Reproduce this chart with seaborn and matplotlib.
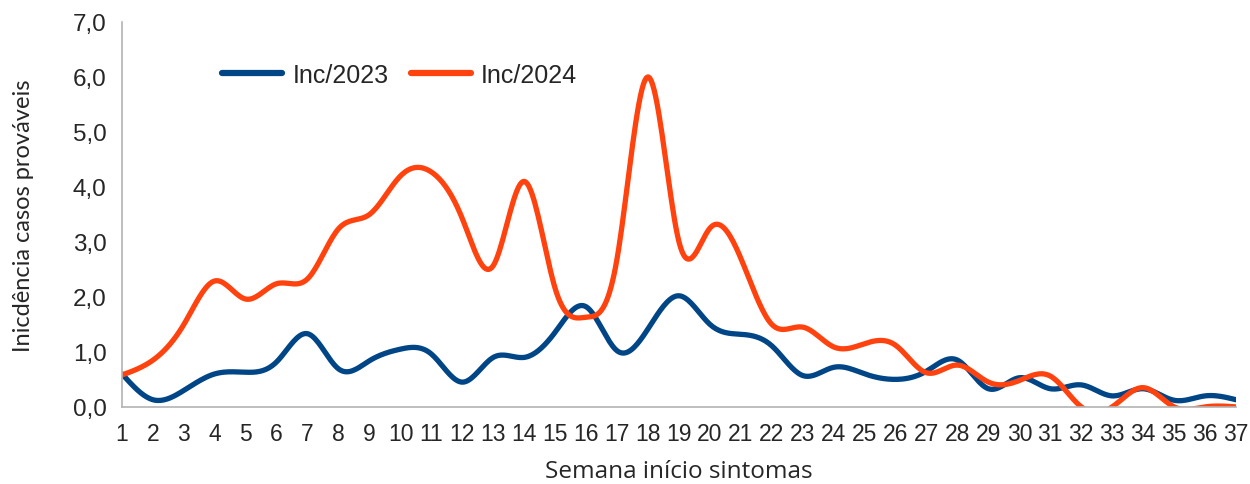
import numpy as np
import pandas as pd
import seaborn as sns
import matplotlib
matplotlib.use("Agg")
import matplotlib.pyplot as plt

# dados (incidencia por semana)
semanas = list(range(1, 38))
inc_2023 = [0.60, 0.13, 0.30, 0.60, 0.63, 0.82, 1.33, 0.69, 0.84, 1.05,
            0.96, 0.45, 0.90, 0.90, 1.36, 1.82, 1.02, 1.42, 2.02, 1.50,
            1.32, 1.11, 0.57, 0.72, 0.60, 0.50, 0.65, 0.85, 0.33, 0.53,
            0.33, 0.40, 0.20, 0.33, 0.12, 0.20, 0.13]
inc_2024 = [0.58, 0.85, 1.50, 2.29, 1.96, 2.24, 2.33, 3.24, 3.50, 4.20,
            4.27, 3.42, 2.57, 4.10, 2.15, 1.63, 2.70, 6.00, 3.00, 3.25,
            2.70, 1.50, 1.45, 1.09, 1.15, 1.12, 0.62, 0.76, 0.45, 0.48,
            0.56, 0.00, 0.00, 0.35, 0.00, 0.00, 0.00]
series = ["Inc/2023", "Inc/2024"]
cores = ["#004586", "#ff420e"]
yticks = [0, 1, 2, 3, 4, 5, 6, 7]


def spline(x, y, n=20):
    # spline cubica natural so para desenhar a curva suavizada
    x = np.asarray(x, float)
    y = np.asarray(y, float)
    m = len(x)
    h = np.diff(x)
    A = np.zeros((m, m))
    b = np.zeros(m)
    A[0, 0] = A[-1, -1] = 1
    for i in range(1, m - 1):
        A[i, i - 1] = h[i - 1]
        A[i, i] = 2 * (h[i - 1] + h[i])
        A[i, i + 1] = h[i]
        b[i] = 6 * ((y[i + 1] - y[i]) / h[i] - (y[i] - y[i - 1]) / h[i - 1])
    M = np.linalg.solve(A, b)
    xs, ys = [], []
    for i in range(m - 1):
        t = np.linspace(x[i], x[i + 1], n, endpoint=False)
        a = x[i + 1] - t
        c = t - x[i]
        v = (M[i] * a**3 + M[i + 1] * c**3) / (6 * h[i]) \
            + (y[i] / h[i] - M[i] * h[i] / 6) * a \
            + (y[i + 1] / h[i] - M[i + 1] * h[i] / 6) * c
        xs.extend(t)
        ys.extend(v)
    xs.append(x[-1])
    ys.append(y[-1])
    return np.array(xs), np.array(ys)


frames = []
for nome, vals in zip(series, [inc_2023, inc_2024]):
    sx, sy = spline(semanas, vals)
    frames.append(pd.DataFrame({"semana": sx, "inc": sy, "serie": nome}))
df = pd.concat(frames, ignore_index=True)

sns.set_style("white")
plt.rcParams["font.family"] = ["Liberation Sans", "DejaVu Sans"]

fig = plt.figure(figsize=(12.5, 4.85), dpi=100)
ax = fig.add_axes([0.0976, 0.159, 0.8912, 0.7938])

sns.lineplot(data=df, x="semana", y="inc", hue="serie", palette=cores,
             linewidth=3.8, sort=False, ax=ax, estimator=None)

ax.set_xlim(1, 37)
ax.set_ylim(0, 7)
ax.set_xticks(semanas)
ax.set_xticklabels([str(s) for s in semanas], fontsize=16.5)
ax.set_yticks(yticks)
ax.set_yticklabels([f"{v:.1f}".replace(".", ",") for v in yticks], fontsize=17.5)

for s in ["top", "right"]:
    ax.spines[s].set_visible(False)
for s in ["left", "bottom"]:
    ax.spines[s].set_color("#b3b3b3")
    ax.spines[s].set_linewidth(1.2)
ax.tick_params(axis="both", direction="out", length=8, width=1.2, color="#b3b3b3", pad=3)
ax.tick_params(axis="x", pad=3)

ax.set_xlabel("Semana início sintomas", family=["Open Sans", "DejaVu Sans"], fontsize=17.5, labelpad=10)
ax.set_ylabel("Inicdência casos prováveis", family=["Lato", "DejaVu Sans"], fontsize=17, labelpad=28)

leg = ax.legend(loc="center left", bbox_to_anchor=(0.07, 0.862), ncol=2, frameon=False,
                fontsize=18, handlelength=2.4, handletextpad=0.4, columnspacing=0.9)
for ln in leg.get_lines():
    ln.set_linewidth(4.5)

fig.savefig("out.png", dpi=100)
